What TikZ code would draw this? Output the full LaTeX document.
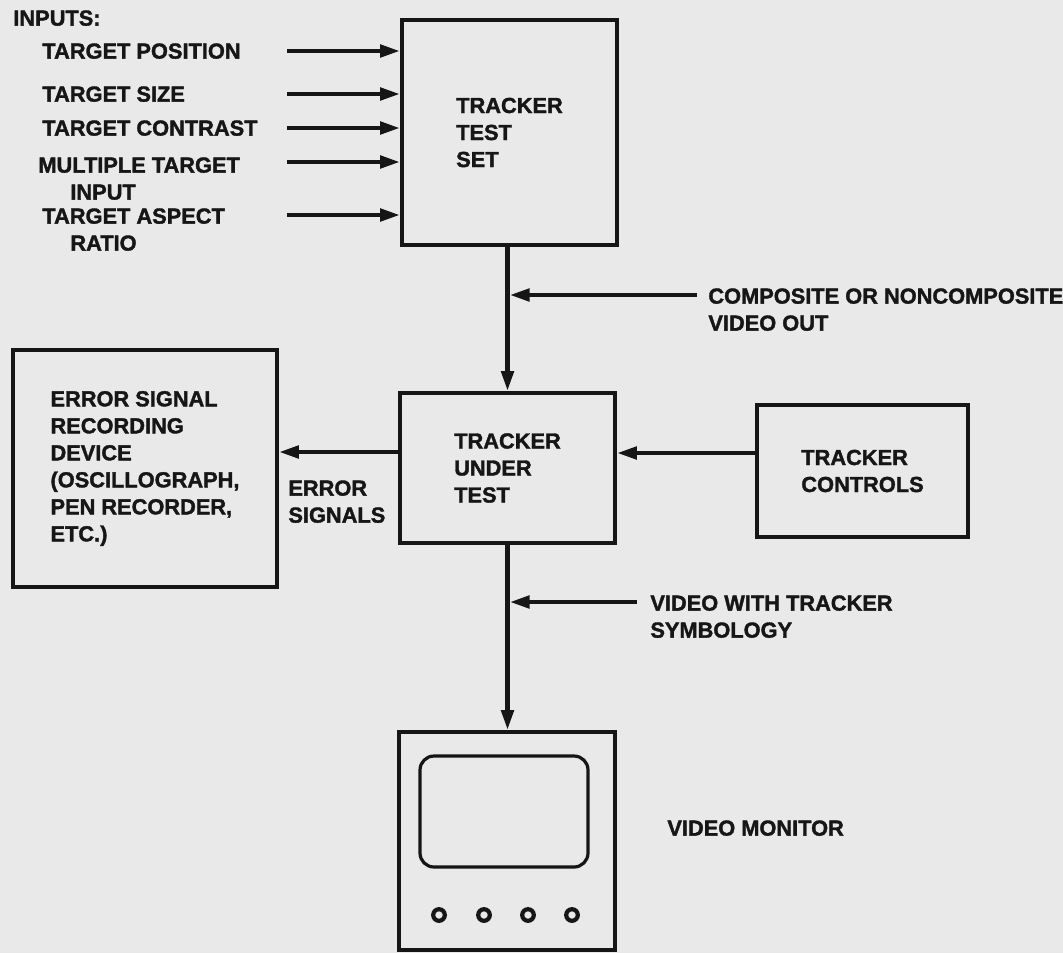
\documentclass[tikz,border=0pt]{standalone}
\usepackage{fontspec}
\setmainfont{Liberation Sans}[BoldFeatures={FakeBold=1.6}]
\usetikzlibrary{arrows.meta}
\definecolor{paper}{RGB}{233,233,233}
\definecolor{ink}{RGB}{22,22,22}
\begin{document}
\begin{tikzpicture}[x=0.5pt,y=-0.5pt,
  every node/.style={font=\fontsize{10.9}{13.5}\selectfont\bfseries, text=ink},
  box/.style={draw=ink, line width=1.8pt, align=left, inner sep=0pt},
  lbl/.style={anchor=north west, align=left, inner sep=0pt},
  wire/.style={draw=ink, line width=2.3pt},
  arr/.style={wire, -{Triangle[length=10pt,width=6pt]}}]
  \fill[paper] (0,0) rectangle (1063,953);
  \useasboundingbox (0,0) rectangle (1063,953);

  % blocks
  \node[box, minimum width=107.5pt, minimum height=112.5pt] (tts) at (509.5,132.5) {TRACKER\\TEST\\SET};
  \node[box, minimum width=107.5pt, minimum height=75pt] (tut) at (507.5,468) {TRACKER\\UNDER\\TEST};
  \node[box, minimum width=105.5pt, minimum height=66pt] (ctl) at (862.5,471) {TRACKER\\CONTROLS};
  \node[box, minimum width=132pt, minimum height=118.5pt] (rec) at (145,468.5)
    {ERROR SIGNAL\\RECORDING\\DEVICE\\(OSCILLOGRAPH,\\PEN RECORDER,\\ETC.)};
  \node[box, minimum width=108pt, minimum height=109pt] (mon) at (507,841) {};

  % monitor screen and knobs
  \draw[ink, line width=1.6pt, rounded corners=7pt] (420,756) rectangle (588,867);
  \foreach \x in {439,484,528,572} \draw[ink, line width=2.1pt] (\x,915) circle [radius=2.9pt];

  % labels
  \node[lbl] (inputs) at (13,10) {INPUTS:};
  \node[lbl] (tpos) at (42,43) {TARGET POSITION};
  \node[lbl] (tsize) at (42,86) {TARGET SIZE};
  \node[lbl] (tcon) at (42,120) {TARGET CONTRAST};
  \node[lbl] (tmul) at (38,157) {MULTIPLE TARGET\\\hspace*{16pt}INPUT};
  \node[lbl] (tasp) at (42,208) {TARGET ASPECT\\\hspace*{14pt}RATIO};
  \node[lbl] (errsig) at (288,480) {ERROR\\SIGNALS};
  \node[lbl] (vout) at (708,288) {COMPOSITE OR NONCOMPOSITE\\VIDEO OUT};
  \node[lbl] (vsym) at (650,595) {VIDEO WITH TRACKER\\SYMBOLOGY};
  \node[lbl] (monlbl) at (667,820) {VIDEO MONITOR};

  % input arrows
  \foreach \y [count=\i] in {51,94,128,162,215} {
    \coordinate (in\i) at (287,\y);
    \draw[arr] (in\i) -- (in\i -| tts.west);
  }

  % video path
  \draw[arr] (tut.north |- tts.south) -- (tut.north);
  \coordinate (cvo) at (697,295);
  \draw[arr, shorten >=1pt] (cvo) -- (cvo -| tut.north);
  \draw[arr] (tut.south) -- (tut.south |- mon.north);
  \coordinate (csym) at (637,602);
  \draw[arr, shorten >=1pt] (csym) -- (csym -| tut.south);

  % error and control signals
  \draw[arr] ([yshift=8pt]tut.west) -- ([yshift=8pt]tut.west -| rec.east);
  \draw[arr] ([yshift=9pt]ctl.west) -- ([yshift=9pt]ctl.west -| tut.east);
\end{tikzpicture}
\end{document}
